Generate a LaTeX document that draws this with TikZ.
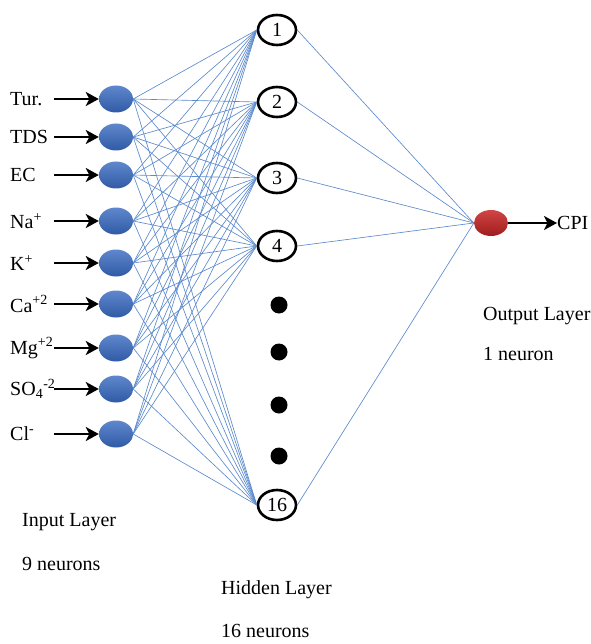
\documentclass[tikz,border=0pt]{standalone}
\usepackage{fontspec}
\setmainfont{Liberation Serif}
\usetikzlibrary{shapes.geometric,arrows.meta}
\definecolor{inblue}{RGB}{66,114,196}
\definecolor{inblueD}{RGB}{48,90,165}
\definecolor{outred}{RGB}{200,36,36}
\definecolor{lineblue}{RGB}{92,138,204}
\begin{document}
\begin{tikzpicture}[x=1pt,y=-1pt,
  txt/.style={font=\fontsize{20}{23}\selectfont, inner sep=0pt},
  innode/.style={ellipse, minimum width=34pt, minimum height=27pt, inner sep=0pt, top color=inblue!85!white, bottom color=inblueD, draw=none},
  outnode/.style={ellipse, minimum width=34pt, minimum height=26pt, inner sep=0pt, top color=outred!85!white, bottom color=outred!80!black, draw=none},
  hidnode/.style={ellipse, draw=black, line width=2.6pt, minimum width=38pt, minimum height=30pt, inner sep=0pt, font=\fontsize{20}{20}\selectfont},
  dotnode/.style={circle, fill=black, minimum size=17pt, inner sep=0pt},
  conn/.style={draw=lineblue, line width=0.65pt},
  inarrow/.style={draw=black, line width=2.8pt, -{Stealth[length=13pt,width=14pt,inset=3.5pt]}}
]
\useasboundingbox (0,0) rectangle (590,644);

% input layer
\foreach \n/\y/\lab in {1/99/{Tur.}, 2/137/{TDS}, 3/175/{EC}, 4/221/{Na\textsuperscript{+}}, 5/263/{K\textsuperscript{+}}, 6/304/{Ca\textsuperscript{+2}}, 7/348/{Mg\textsuperscript{+2}}, 8/389/{SO\textsubscript{4}\textsuperscript{-2}}, 9/434/{Cl\textsuperscript{-}}}{
  \node[innode] (i\n) at (116,\y) {};
  \node[txt, anchor=west] (l\n) at (10,\y) {\lab};
  \coordinate (a\n) at (54,\y);
  \draw[inarrow] (a\n) -- (i\n.west);
}

% hidden layer
\foreach \n/\y in {1/30, 2/102, 3/178, 4/246, 16/505}{
  \node[hidnode] (h\n) at (277,\y) {\n};
}
\foreach \n/\y in {1/305, 2/352, 3/405, 4/456}{
  \node[dotnode] (d\n) at (279,\y) {};
}

% output
\node[outnode] (o) at (491,223) {};
\node[txt, anchor=west] (cpi) at (557,223) {CPI};
\draw[inarrow] (o.east) -- (cpi.west);

% connections
\foreach \i in {1,...,9}{
  \foreach \h in {1,2,3,4,16}{
    \draw[conn] (i\i.east) -- (h\h.west);
  }
}
\foreach \h in {1,2,3,4,16}{
  \draw[conn] (h\h.east) -- (o.west);
}

% layer labels
\node[txt, anchor=west] (il) at (22,522) {Input Layer};
\node[txt, anchor=west] (in) at (22,564) {9 neurons};
\node[txt, anchor=west] (hl) at (221,590) {Hidden Layer};
\node[txt, anchor=west] (hn) at (221,631) {16 neurons};
\node[txt, anchor=west] (ol) at (483,316) {Output Layer};
\node[txt, anchor=west] (on) at (483,354) {1 neuron};
\end{tikzpicture}
\end{document}
